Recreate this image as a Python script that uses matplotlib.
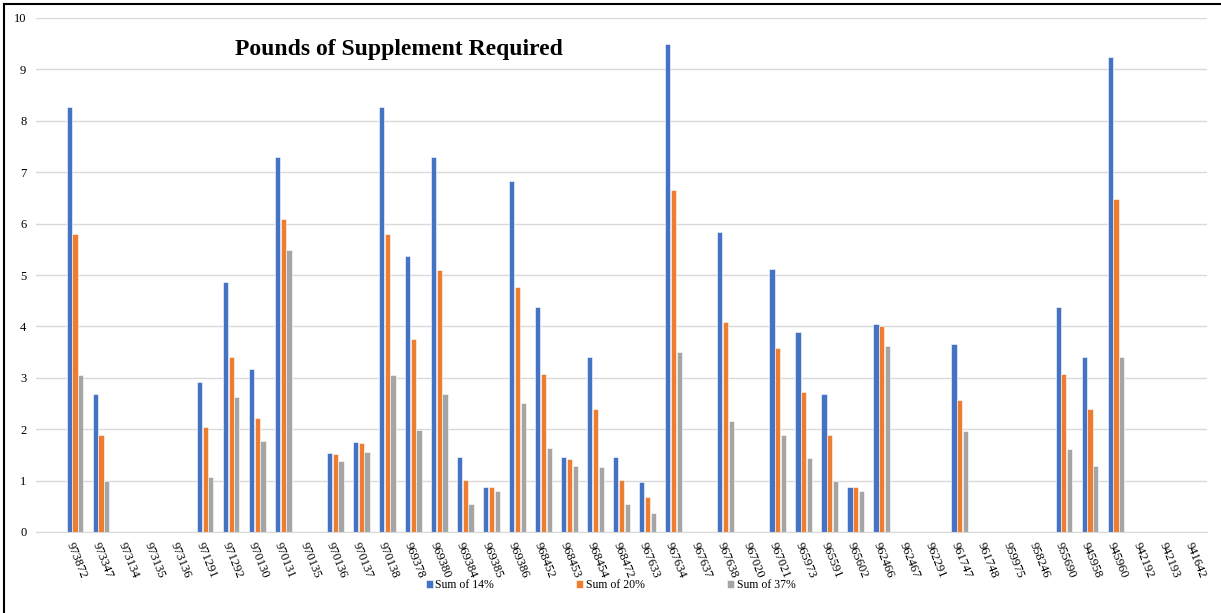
import numpy as np
import matplotlib
matplotlib.use('Agg')
import matplotlib.pyplot as plt
from matplotlib.lines import Line2D

plt.rcParams['font.family'] = ['Liberation Serif', 'DejaVu Serif']

# item numbers along the x axis
items = ['973872', '973347', '973134', '973135', '973136', '971291', '971292',
         '970130', '970131', '970135', '970136', '970137', '970138', '969378',
         '969380', '969384', '969385', '969386', '968452', '968453', '968454',
         '968472', '967633', '967634', '967637', '967638', '967020', '967021',
         '965973', '965591', '965602', '962466', '962467', '962291', '961747',
         '961748', '959975', '958246', '955690', '945958', '945960', '942192',
         '942193', '941642']

sum_14 = [8.27, 2.68, 0, 0, 0, 2.92, 4.86, 3.17, 7.30, 0, 1.54, 1.75, 8.27, 5.37,
          7.30, 1.46, 0.88, 6.82, 4.38, 1.46, 3.41, 1.46, 0.97, 9.50, 0, 5.84,
          0, 5.11, 3.90, 2.68, 0.88, 4.04, 0, 0, 3.65, 0, 0, 0, 4.38, 3.41,
          9.25, 0, 0, 0]
sum_20 = [5.80, 1.88, 0, 0, 0, 2.04, 3.40, 2.22, 6.09, 0, 1.52, 1.73, 5.80, 3.75,
          5.10, 1.02, 0.87, 4.77, 3.07, 1.42, 2.39, 1.02, 0.68, 6.65, 0, 4.09,
          0, 3.58, 2.73, 1.88, 0.87, 4.01, 0, 0, 2.56, 0, 0, 0, 3.07, 2.39,
          6.48, 0, 0, 0]
sum_37 = [3.05, 0.99, 0, 0, 0, 1.07, 2.63, 1.77, 5.49, 0, 1.38, 1.56, 3.05, 1.98,
          2.69, 0.54, 0.79, 2.51, 1.64, 1.29, 1.26, 0.54, 0.36, 3.50, 0, 2.15,
          0, 1.88, 1.44, 0.99, 0.79, 3.61, 0, 0, 1.96, 0, 0, 0, 1.62, 1.29,
          3.41, 0, 0, 0]

series = [('Sum of 14%', sum_14, '#4472C4'),
          ('Sum of 20%', sum_20, '#ED7D31'),
          ('Sum of 37%', sum_37, '#A5A5A5')]

fig = plt.figure(figsize=(12.21, 6.13), dpi=100)
ax = fig.add_axes([36/1221, (613-532)/613, (1207-36)/1221, (532-18)/613])

x = np.arange(len(items))
step = 0.22
for i, (name, vals, col) in enumerate(series):
    ax.bar(x + (i-1)*step, vals, width=0.2, color=col, label=name,
           edgecolor='white', linewidth=0.4)

ax.set_xlim(-1.5, len(items) - 0.5)
ax.set_ylim(0, 10)
ax.set_yticks(range(0, 11))
ax.yaxis.grid(True, color='#d9d9d9', linewidth=1)
ax.set_axisbelow(True)
for s in ['top', 'right', 'left']:
    ax.spines[s].set_visible(False)
ax.spines['bottom'].set_color('#d9d9d9')
ax.tick_params(axis='y', length=0, labelsize=9, pad=7)
ax.tick_params(axis='x', length=0, labelsize=9, pad=6)
ax.set_xticks(x)
ax.set_xticklabels(items, rotation=-68, ha='left', va='top',
                   rotation_mode='anchor')

fig.text(235/1221, 1 - 49/613, 'Pounds of Supplement Required',
         fontsize=17, fontweight='bold', va='center', ha='left')

fig.legend(loc='center', bbox_to_anchor=(0.5, 1 - 585/613), ncol=3, frameon=False,
           fontsize=8.5, handlelength=0.6, handleheight=0.6, handletextpad=0.2,
           columnspacing=7)

# frame lines of the pasted chart
fig.add_artist(Line2D([4/1221, 1], [1 - 4/613, 1 - 4/613], color='black', linewidth=1.5))
fig.add_artist(Line2D([4/1221, 4/1221], [0, 1 - 4/613], color='black', linewidth=1.5))

fig.savefig('out.png', dpi=100)
